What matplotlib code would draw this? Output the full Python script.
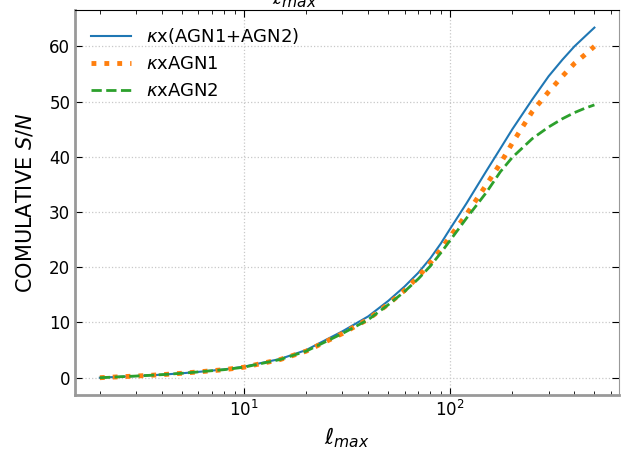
import matplotlib
matplotlib.use("Agg")
import matplotlib.pyplot as plt

# cumulative S/N versus maximum multipole
ell = [2, 3, 4, 5, 6, 8, 10, 15, 20, 30, 40, 50, 60, 70, 80, 90, 100, 120, 150, 175, 200,
       250, 300, 350, 400, 450, 500]
sn_total = [0.0, 0.3, 0.55, 0.8, 1.05, 1.5, 2.0, 3.4, 5.0, 8.4, 11.1, 13.9, 16.5, 19.0, 21.6,
            24.3, 27.0, 31.6, 37.5, 41.5, 45.0, 50.4, 54.6, 57.6, 60.0, 61.8, 63.4]
sn_agn1 = [0.0, 0.3, 0.55, 0.8, 1.05, 1.45, 1.9, 3.3, 4.8, 8.0, 10.6, 13.3, 15.8, 18.3, 20.8,
           23.2, 25.6, 29.6, 35.0, 38.8, 42.5, 48.2, 51.8, 54.6, 56.9, 58.5, 60.0]
sn_agn2 = [0.0, 0.3, 0.55, 0.8, 1.05, 1.45, 1.9, 3.3, 4.8, 8.0, 10.5, 13.2, 15.6, 17.9, 20.2,
           22.6, 24.9, 28.9, 33.6, 37.3, 39.9, 43.3, 45.4, 46.9, 48.0, 48.8, 49.4]
labels = [r"$\kappa$x(AGN1+AGN2)", r"$\kappa$xAGN1", r"$\kappa$xAGN2"]

fig = plt.figure(figsize=(6.21, 4.59), dpi=100)
ax = fig.add_axes([0.121, 0.139, 0.876, 0.839])

ax.plot(ell, sn_total, color="#1f77b4", lw=1.5, label=labels[0])
ax.plot(ell, sn_agn1, color="#ff7f0e", lw=3.5, ls=":", label=labels[1])
ax.plot(ell, sn_agn2, color="#2ca02c", lw=2.0, ls="--", label=labels[2])

ax.set_xscale("log")
ax.set_yticks([0, 10, 20, 30, 40, 50, 60])
ax.grid(True, which="major", ls=":", color="#c8c8c8", lw=0.9)
ax.tick_params(which="both", direction="in", top=True, right=True, labelsize=12)
ax.tick_params(which="major", length=5)
ax.tick_params(which="minor", length=3)

for side in ("left", "bottom", "right"):
    ax.spines[side].set_color("#999999")
ax.spines["left"].set_linewidth(2)
ax.spines["bottom"].set_linewidth(2)
ax.spines["top"].set_color("black")

ax.set_xlabel(r"$\ell_{max}$", fontsize=16)
ax.set_ylabel(r"COMULATIVE $S/N$", fontsize=15, labelpad=10)
ax.legend(loc="upper left", frameon=False, fontsize=13, handlelength=2.2)

# label of the panel above, mostly off the canvas
fig.text(0.475, 1.005, r"$\ell_{max}$", fontsize=16, ha="center", va="center")

fig.savefig("out.png", dpi=100)
